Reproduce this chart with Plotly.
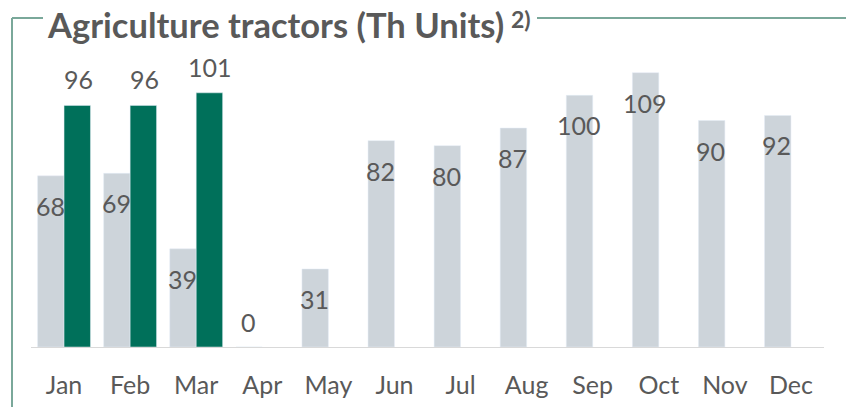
import plotly.graph_objects as go

months = ["Jan", "Feb", "Mar", "Apr", "May", "Jun", "Jul", "Aug", "Sep", "Oct", "Nov", "Dec"]
prev_year = [68, 69, 39, 0, 31, 82, 80, 87, 100, 109, 90, 92]
curr_year = [96, 96, 101, None, None, None, None, None, None, None, None, None]

GRAY = "#cdd4da"
GREEN = "#00705a"
TEXT = "#595959"
FRAME = "#7aa89a"
FONT = "Lato"

W, H = 846, 407
ml, mr, mt, mb = 31, 22, 45, 60
pw, ph = W - ml - mr, H - mt - mb

fig = go.Figure()
fig.add_bar(x=months, y=prev_year, marker_color=GRAY, name="prev", hoverinfo="skip")
fig.add_bar(x=months, y=curr_year, marker_color=GREEN, name="curr", hoverinfo="skip")

ann = []
for m, v in zip(months, prev_year):
    ann.append(dict(x=m, y=v, xref="x", yref="y", text=str(v), showarrow=False,
                    xshift=-14, yshift=(-30 if v > 0 else 25),
                    font=dict(family=FONT, size=25, color=TEXT)))
for m, v in zip(months, curr_year):
    if v is None:
        continue
    ann.append(dict(x=m, y=v, xref="x", yref="y", text=str(v), showarrow=False,
                    xshift=14, yshift=26,
                    font=dict(family=FONT, size=25, color=TEXT)))

def px(x):
    return (x - ml) / pw

def py(y):
    return (H - mb - y) / ph

ann.append(dict(x=px(45), y=py(2), xref="paper", yref="paper", xanchor="left", yanchor="top",
                showarrow=False,
                text="<b>Agriculture tractors (Th Units)</b>",
                font=dict(family=FONT, size=34.5, color=TEXT)))
ann.append(dict(x=px(509), y=py(3), xref="paper", yref="paper", xanchor="left", yanchor="top",
                showarrow=False, text="<b>2)</b>",
                font=dict(family=FONT, size=23, color=TEXT)))

shapes = [
    dict(type="line", xref="paper", yref="paper", x0=px(12), x1=px(12), y0=py(18), y1=py(420),
         line=dict(color=FRAME, width=2)),
    dict(type="line", xref="paper", yref="paper", x0=px(12), x1=px(43), y0=py(18), y1=py(18),
         line=dict(color=FRAME, width=2)),
    dict(type="line", xref="paper", yref="paper", x0=px(537), x1=px(860), y0=py(18), y1=py(18),
         line=dict(color=FRAME, width=2)),
]

fig.update_layout(
    width=W, height=H,
    margin=dict(l=ml, r=mr, t=mt, b=mb, autoexpand=False),
    paper_bgcolor="white", plot_bgcolor="white",
    barmode="group", bargap=0.2, bargroupgap=0,
    showlegend=False,
    annotations=ann, shapes=shapes,
    xaxis=dict(showline=True, linecolor="#d9d9d9", linewidth=1, ticks="", automargin=False,
               tickfont=dict(family=FONT, size=25, color=TEXT), ticklabelstandoff=16,
               showgrid=False, fixedrange=True),
    yaxis=dict(range=[0, 120], visible=False, showgrid=False, fixedrange=True, automargin=False),
)

fig.write_html("out.html", config={"displayModeBar": False},
               post_script="document.body.style.margin='0';document.body.style.overflow='hidden';")
